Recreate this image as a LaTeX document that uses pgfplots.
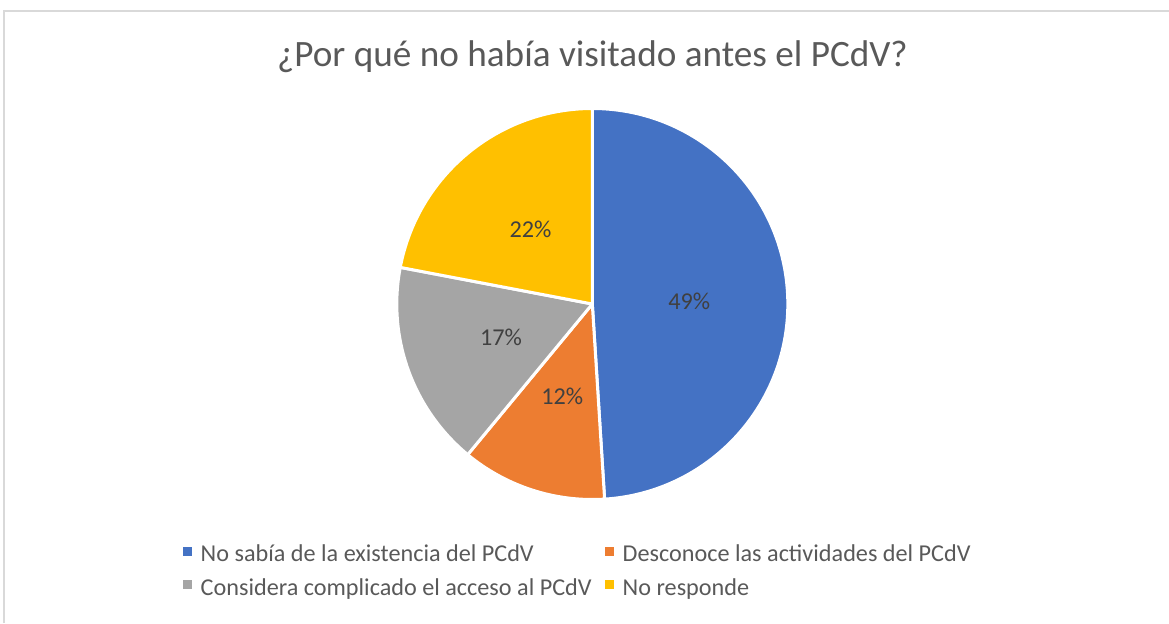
\documentclass[border=0pt]{standalone}
\usepackage{fontspec}
\setmainfont{Carlito}
\usepackage{pgfplots}
\usepackage{pgfplotstable}
\pgfplotsset{compat=1.18}

\definecolor{cBlue}{HTML}{4472C4}
\definecolor{cOrange}{HTML}{ED7D31}
\definecolor{cGray}{HTML}{A5A5A5}
\definecolor{cYellow}{HTML}{FFC000}
\definecolor{txt}{HTML}{595959}
\definecolor{lbl}{HTML}{404040}
\definecolor{frame}{HTML}{D9D9D9}

\pgfplotstableread{
slice value
0 49
1 12
2 17
3 22
}\piedata

\pgfplotstablegetelem{0}{value}\of\piedata \edef\vA{\pgfplotsretval}
\pgfplotstablegetelem{1}{value}\of\piedata \edef\vB{\pgfplotsretval}
\pgfplotstablegetelem{2}{value}\of\piedata \edef\vC{\pgfplotsretval}
\pgfplotstablegetelem{3}{value}\of\piedata \edef\vD{\pgfplotsretval}
\pgfmathsetmacro\total{\vA+\vB+\vC+\vD}
\pgfmathsetmacro\aA{90}
\pgfmathsetmacro\aB{\aA-360*(\vA/\total)}
\pgfmathsetmacro\aC{\aB-360*(\vB/\total)}
\pgfmathsetmacro\aD{\aC-360*(\vC/\total)}
\pgfmathsetmacro\aE{\aD-360*(\vD/\total)}

\def\cx{592.3}
\def\cy{319}
\def\rr{97.75pt}
\def\lr{97}

\begin{document}
\begin{tikzpicture}
\begin{axis}[
  scale only axis, width=584.5pt, height=311.5pt,
  xmin=0, xmax=1169, ymin=0, ymax=623,
  hide axis, clip=false,
  legend columns=2,
  legend cell align=left,
  legend style={at={(axis cs:182.7,623-541)}, anchor=north west,
    draw=none, fill=none, inner sep=0pt, outer sep=0pt,
    font=\fontsize{12.1}{14.5}\selectfont, text=txt,
    row sep=2.8pt,
    /tikz/every odd column/.append style={column sep=2.6pt},
    /tikz/every even column/.append style={column sep=4.5pt}},
]
\draw[color=frame, line width=1pt] (axis cs:3.7,0) -- (axis cs:3.7,612) -- (axis cs:1169,612);

\path[fill=cBlue, draw=white, line width=1.5pt, line join=round] (axis cs:\cx,\cy) -- ++(\aA:\rr) arc[start angle=\aA, end angle=\aB, radius=\rr] -- cycle;
\path[fill=cOrange, draw=white, line width=1.5pt, line join=round] (axis cs:\cx,\cy) -- ++(\aB:\rr) arc[start angle=\aB, end angle=\aC, radius=\rr] -- cycle;
\path[fill=cGray, draw=white, line width=1.5pt, line join=round] (axis cs:\cx,\cy) -- ++(\aC:\rr) arc[start angle=\aC, end angle=\aD, radius=\rr] -- cycle;
\path[fill=cYellow, draw=white, line width=1.5pt, line join=round] (axis cs:\cx,\cy) -- ++(\aD:\rr) arc[start angle=\aD, end angle=\aE, radius=\rr] -- cycle;

\node[text=lbl, font=\fontsize{12.1}{14.5}\selectfont] at (axis cs:{\cx+\lr*cos((\aA+\aB)/2)},{\cy+\lr*sin((\aA+\aB)/2)}) {\vA\%};
\node[text=lbl, font=\fontsize{12.1}{14.5}\selectfont] at (axis cs:{\cx+\lr*cos((\aB+\aC)/2)},{\cy+\lr*sin((\aB+\aC)/2)}) {\vB\%};
\node[text=lbl, font=\fontsize{12.1}{14.5}\selectfont] at (axis cs:{\cx+\lr*cos((\aC+\aD)/2)},{\cy+\lr*sin((\aC+\aD)/2)}) {\vC\%};
\node[text=lbl, font=\fontsize{12.1}{14.5}\selectfont] at (axis cs:{\cx+\lr*cos((\aD+\aE)/2)},{\cy+\lr*sin((\aD+\aE)/2)}) {\vD\%};

\node[text=txt, font=\fontsize{18.6}{22}\selectfont, anchor=base] at (axis cs:592.5,556.3) {¿Por qué no había visitado antes el PCdV?};

\addlegendimage{legend image code/.code={\fill[cBlue] (0pt,0pt) rectangle (4pt,4pt);}}
\addlegendentry{No sabía de la existencia del PCdV}
\addlegendimage{legend image code/.code={\fill[cOrange] (0pt,0pt) rectangle (4pt,4pt);}}
\addlegendentry{Desconoce las actividades del PCdV}
\addlegendimage{legend image code/.code={\fill[cGray] (0pt,0pt) rectangle (4pt,4pt);}}
\addlegendentry{Considera complicado el acceso al PCdV}
\addlegendimage{legend image code/.code={\fill[cYellow] (0pt,0pt) rectangle (4pt,4pt);}}
\addlegendentry{No responde}
\end{axis}
\pgfresetboundingbox
\path (current axis.south west) rectangle (current axis.north east);
\end{tikzpicture}
\end{document}
